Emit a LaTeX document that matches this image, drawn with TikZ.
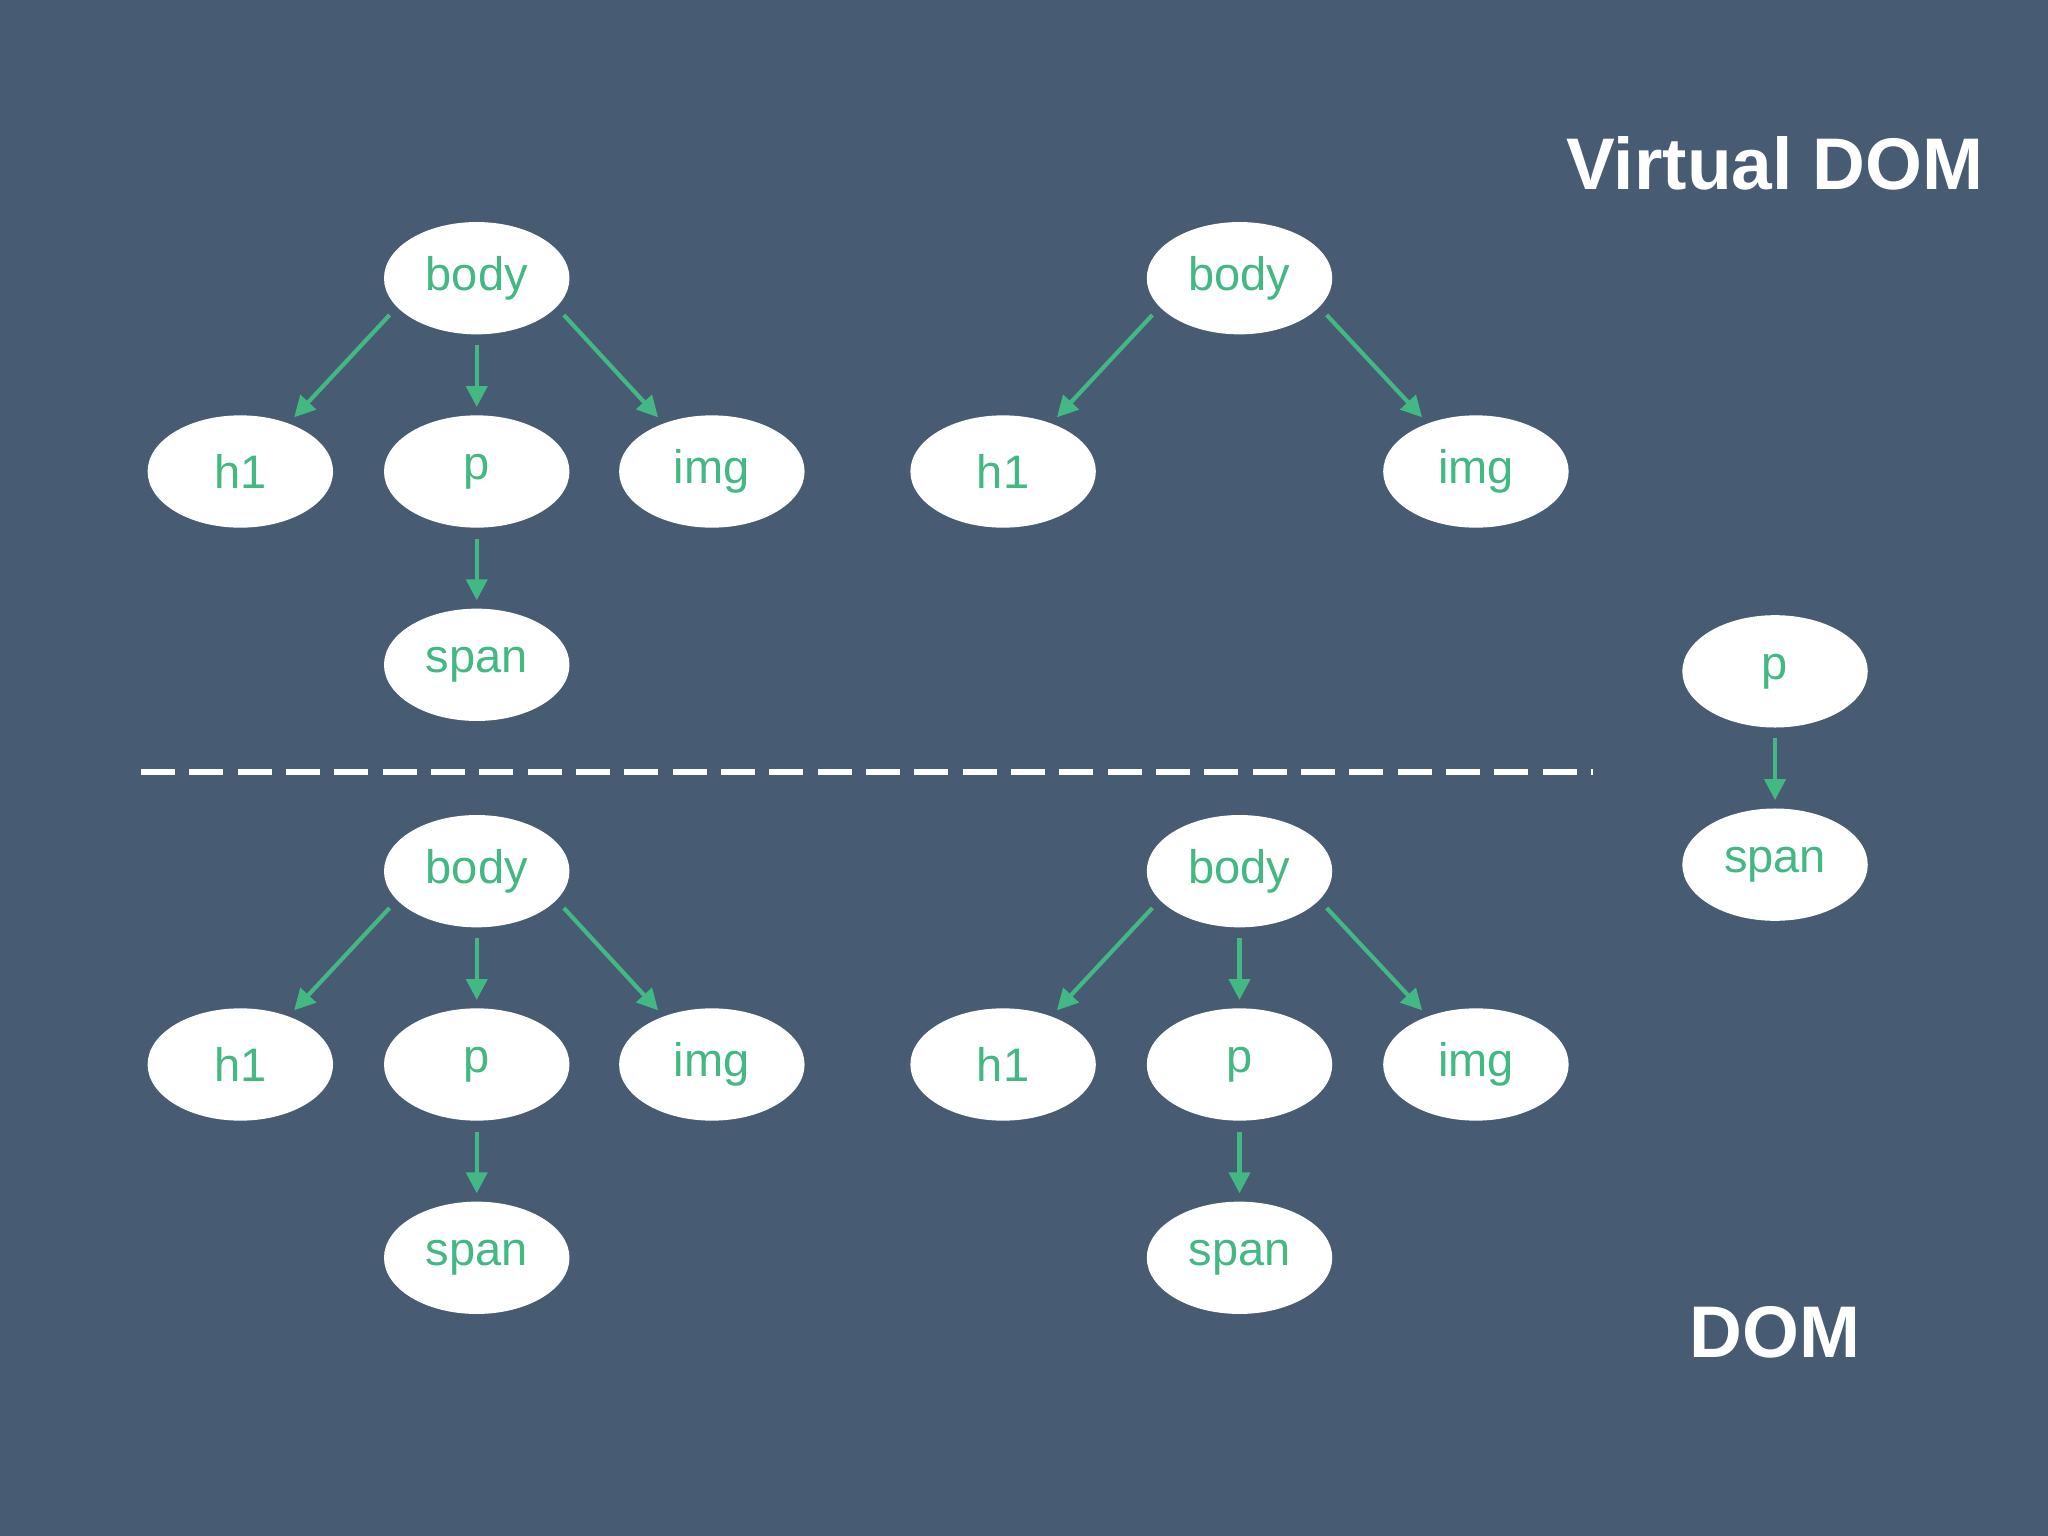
\documentclass[tikz,border=0pt]{standalone}
\usepackage{fontspec}
\setmainfont{Liberation Sans}
\usetikzlibrary{shapes.geometric,arrows.meta}
\definecolor{bg}{HTML}{475B73}
\definecolor{vg}{HTML}{42B883}
\begin{document}
\begin{tikzpicture}[x=0.5pt,y=-0.5pt,
  el/.style={ellipse,fill=white,minimum width=71pt,minimum height=43pt,inner sep=0pt,text=vg,font=\fontsize{18}{18}\selectfont},
  ar/.style={draw=vg,line width=1.6pt,-{Triangle[length=8pt,width=8pt]},shorten <=4pt,shorten >=3pt},
  ttl/.style={text=white,font=\fontsize{28}{28}\selectfont\bfseries}]
\fill[bg] (0,0) rectangle (1568,1176);
\useasboundingbox (0,0) rectangle (1568,1176);
% top-left
\node[el] (b1) at (365,213) {body};
\node[el] (h1) at (184,361) {h1};
\node[el] (p1) at (365,361) {p};
\node[el] (i1) at (545,361) {img};
\node[el] (s1) at (365,509) {span};
\draw[ar] (b1.200) -- (h1.45);
\draw[ar] (b1.south) -- (p1.north);
\draw[ar] (b1.340) -- (i1.135);
\draw[ar] (p1.south) -- (s1.north);
% top-right
\node[el] (b2) at (949,213) {body};
\node[el] (h2) at (768,361) {h1};
\node[el] (i2) at (1130,361) {img};
\draw[ar] (b2.200) -- (h2.45);
\draw[ar] (b2.340) -- (i2.135);
% right
\node[el] (p3) at (1359,514) {p};
\node[el] (s3) at (1359,662) {span};
\draw[ar] (p3.south) -- (s3.north);
% bottom-left
\node[el] (b4) at (365,667) {body};
\node[el] (h4) at (184,815) {h1};
\node[el] (p4) at (365,815) {p};
\node[el] (i4) at (545,815) {img};
\node[el] (s4) at (365,963) {span};
\draw[ar] (b4.200) -- (h4.45);
\draw[ar] (b4.south) -- (p4.north);
\draw[ar] (b4.340) -- (i4.135);
\draw[ar] (p4.south) -- (s4.north);
% bottom-right
\node[el] (b5) at (949,667) {body};
\node[el] (h5) at (768,815) {h1};
\node[el] (p5) at (949,815) {p};
\node[el] (i5) at (1130,815) {img};
\node[el] (s5) at (949,963) {span};
\draw[ar] (b5.200) -- (h5.45);
\draw[ar] (b5.south) -- (p5.north);
\draw[ar] (b5.340) -- (i5.135);
\draw[ar] (p5.south) -- (s5.north);
% divider
\coordinate (dl) at (108,591);
\coordinate (dr) at (1220,591);
\draw[white,line width=2pt,dash pattern=on 13pt off 5.5pt] (dl) -- (dr);
\node[ttl] (vd) at (1359,125) {Virtual DOM};
\node[ttl] (dm) at (1359,1020) {DOM};
\end{tikzpicture}
\end{document}
